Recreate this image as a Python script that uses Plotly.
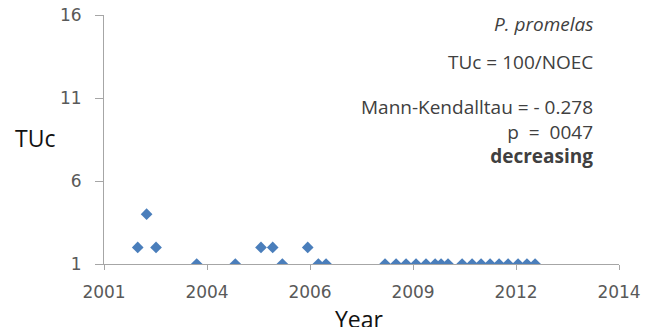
import plotly.graph_objects as go

# sampling dates and toxic units (TUc = 100/NOEC) for P. promelas
dates = [
    "2002-07-23", "2002-10-13", "2003-01-08", "2004-01-18", "2005-01-08",
    "2005-09-02", "2005-12-19", "2006-03-18", "2006-11-07", "2007-02-13",
    "2007-04-25", "2008-10-20", "2009-01-30", "2009-05-02", "2009-08-02",
    "2009-11-02", "2010-01-25", "2010-03-21", "2010-05-24", "2010-10-01",
    "2011-01-01", "2011-03-25", "2011-06-16", "2011-09-07", "2011-11-29",
    "2012-02-29", "2012-05-21", "2012-08-04",
]
tuc = [2, 4, 2, 1, 1, 2, 2, 1, 2, 1, 1, 1, 1, 1, 1, 1, 1, 1, 1, 1,
       1, 1, 1, 1, 1, 1, 1, 1]

species = "<i>P. promelas</i>"
formula = "TUc = 100/NOEC"
trend = "Mann-Kendalltau = - 0.278<br>p  =  0047<br><b>decreasing</b>"

DAY_MS = 86400000
FONT = "Open Sans"
TICK_FONT = dict(family="DejaVu Sans", size=17, color="#595959")

fig = go.Figure()
fig.add_trace(go.Scatter(
    x=dates, y=tuc,
    mode="markers",
    marker=dict(symbol="diamond", size=9, color="#4A7EBB"),
))

fig.update_xaxes(
    type="date",
    range=["2001-09-15", "2014-09-17"],
    tick0="2001-09-15", dtick=950 * DAY_MS, tickformat="%Y",
    showgrid=False, zeroline=False, automargin=False,
    showline=True, linecolor="#A6A6A6", linewidth=1,
    ticks="outside", ticklen=5, tickcolor="#A6A6A6",
    ticklabelstandoff=8, ticklabeloverflow="allow",
    tickfont=TICK_FONT,
)
fig.update_yaxes(
    range=[1, 16], tick0=1, dtick=5,
    showgrid=False, zeroline=False, automargin=False,
    showline=True, linecolor="#A6A6A6", linewidth=1,
    ticks="outside", ticklen=8, tickcolor="#A6A6A6",
    ticklabelstandoff=10, ticklabeloverflow="allow",
    tickfont=TICK_FONT,
)

fig.add_annotation(text="TUc", xref="paper", yref="paper", x=-0.134, y=0.506,
                   xanchor="center", yanchor="middle", showarrow=False,
                   font=dict(family=FONT, size=23, color="#111111"))
fig.add_annotation(text="Year", xref="paper", yref="paper", x=0.497, y=-0.15,
                   xanchor="center", yanchor="top", showarrow=False,
                   font=dict(family=FONT, size=23, color="#111111"))

fig.add_annotation(text=species, xref="paper", yref="paper", x=0.953, y=0.962,
                   xanchor="right", yanchor="middle", showarrow=False,
                   font=dict(family=FONT, size=19, color="#404040"))
fig.add_annotation(text=formula, xref="paper", yref="paper", x=0.953, y=0.811,
                   xanchor="right", yanchor="middle", showarrow=False,
                   font=dict(family=FONT, size=19, color="#404040"))
fig.add_annotation(text=trend, xref="paper", yref="paper", x=0.953, y=0.534,
                   xanchor="right", yanchor="middle", align="right", showarrow=False,
                   font=dict(family=FONT, size=19, color="#404040"))

# the page body adds an 8 px offset, so the margins are trimmed by that much
fig.update_layout(
    width=653, height=327,
    showlegend=False,
    plot_bgcolor="white", paper_bgcolor="white",
    margin=dict(l=96, r=42, t=7, b=71, autoexpand=False),
)

fig.write_html("out.html")
